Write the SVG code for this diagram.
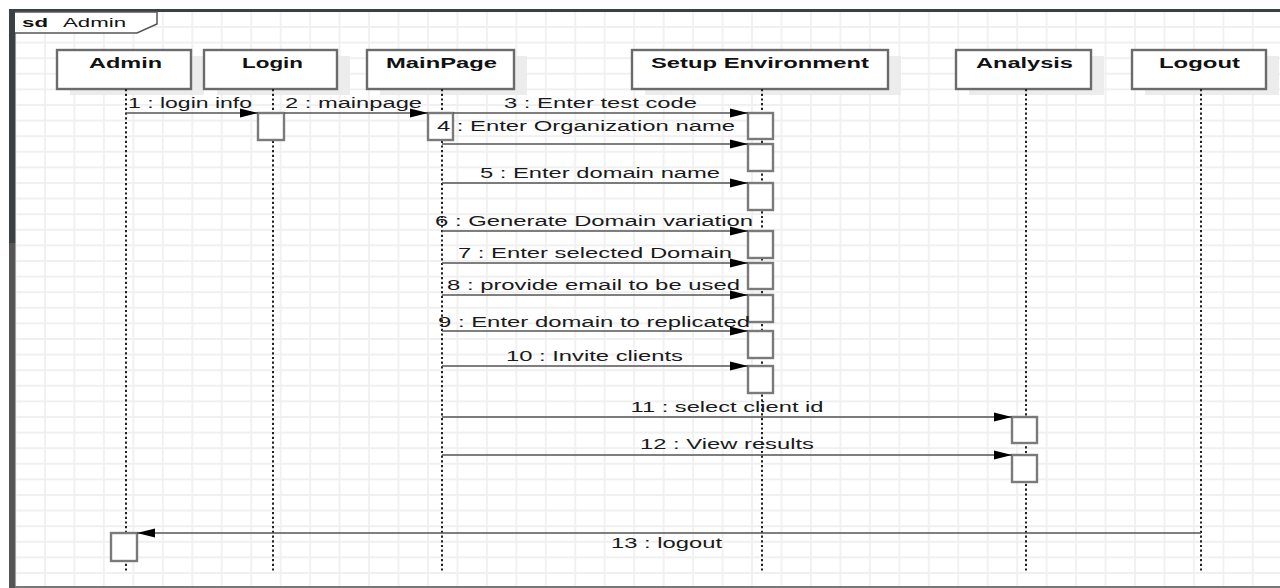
<svg xmlns="http://www.w3.org/2000/svg" width="1280" height="588" viewBox="0 0 1280 588">
<style>
.hdr{fill:#fff;stroke:#6b6b6b;stroke-width:2.4}
.shd{fill:#ececec}
.hl{font-family:"Liberation Sans",Arial,sans-serif;font-size:14.5px;font-weight:bold;fill:#111;text-anchor:middle}
.life{stroke:#222;stroke-width:2;stroke-dasharray:2.2 2.5;fill:none}
.act{fill:#fff;stroke:#7a7a7a;stroke-width:2.4}
.msg{stroke:#555;stroke-width:1.6;fill:none;marker-end:url(#ah)}
.ml{font-family:"Liberation Sans",Arial,sans-serif;font-size:14px;fill:#1a1a1a;text-anchor:middle}
.mls{font-family:"Liberation Sans",Arial,sans-serif;font-size:14px;fill:#1a1a1a}
</style>
<defs>
<pattern id="grid" patternUnits="userSpaceOnUse" x="44" y="10.4" width="29.46" height="15.6">
<path d="M0,1 H29.46 M1,0 V15.6" stroke="#f0f0f0" stroke-width="1.8" fill="none"/>
</pattern>
<marker id="ah" markerUnits="userSpaceOnUse" markerWidth="18" markerHeight="10" viewBox="0 0 18 10" refX="18" refY="5" orient="auto">
<path d="M0,0.6 L18,5 L0,9.4 z" fill="#000"/>
</marker>
</defs>
<rect width="1280" height="588" fill="#fff"/>
<g id="frame">
<rect x="15" y="12" width="1265" height="574" fill="url(#grid)"/>
<rect x="9" y="9" width="1271" height="3" fill="#3a4144"/>
<rect x="9" y="9" width="6.5" height="234" fill="#3a4144"/>
<rect x="9" y="243" width="6.5" height="345" fill="#555"/>
<rect x="15" y="586" width="1265" height="2" fill="#777"/>
<path d="M15,12 H157 V24 L137,33 H15" fill="#fff" stroke="#555" stroke-width="1.5"/>
<text x="22" y="27" font-family="Liberation Sans,Arial,sans-serif" font-size="13.5" font-weight="bold" fill="#111" textLength="26" lengthAdjust="spacingAndGlyphs">sd</text>
<text x="63" y="27" font-family="Liberation Sans,Arial,sans-serif" font-size="13.5" fill="#111" textLength="63" lengthAdjust="spacingAndGlyphs">Admin</text>
</g>
<g id="admin">
<rect class="shd" x="70" y="56" width="134" height="39"/>
<rect class="hdr" x="57" y="50" width="134" height="39"/>
<text class="hl" x="125.5" y="67.5" textLength="73" lengthAdjust="spacingAndGlyphs">Admin</text>
<line class="life" x1="126" y1="89" x2="126" y2="571"/>
<rect class="act" x="111" y="533" width="26" height="28"/>
</g>
<g id="login">
<rect class="shd" x="217" y="56" width="133" height="39"/>
<rect class="hdr" x="204" y="50" width="133" height="39"/>
<text class="hl" x="272.5" y="67.5" textLength="61" lengthAdjust="spacingAndGlyphs">Login</text>
<line class="life" x1="273" y1="89" x2="273" y2="571"/>
<rect class="act" x="258" y="113" width="26" height="27"/>
</g>
<g id="mainpage">
<rect class="shd" x="380" y="56" width="147" height="39"/>
<rect class="hdr" x="367" y="50" width="147" height="39"/>
<text class="hl" x="441.5" y="67.5" textLength="111" lengthAdjust="spacingAndGlyphs">MainPage</text>
<line class="life" x1="442" y1="89" x2="442" y2="571"/>
<rect class="act" x="428" y="113" width="25" height="27"/>
</g>
<g id="setup">
<rect class="shd" x="645" y="56" width="256" height="39"/>
<rect class="hdr" x="632" y="50" width="256" height="39"/>
<text class="hl" x="760" y="67.5" textLength="218" lengthAdjust="spacingAndGlyphs">Setup Environment</text>
<line class="life" x1="762" y1="89" x2="762" y2="571"/>
<rect class="act" x="748" y="113" width="25" height="26"/>
<rect class="act" x="748" y="144" width="25" height="27"/>
<rect class="act" x="748" y="183" width="25" height="27"/>
<rect class="act" x="748" y="231" width="25" height="27"/>
<rect class="act" x="748" y="263" width="25" height="26"/>
<rect class="act" x="748" y="295" width="25" height="27"/>
<rect class="act" x="748" y="331" width="25" height="27"/>
<rect class="act" x="748" y="366" width="25" height="27"/>
</g>
<g id="analysis">
<rect class="shd" x="969" y="56" width="135" height="39"/>
<rect class="hdr" x="956" y="50" width="135" height="39"/>
<text class="hl" x="1024.5" y="67.5" textLength="97" lengthAdjust="spacingAndGlyphs">Analysis</text>
<line class="life" x1="1026" y1="89" x2="1026" y2="571"/>
<rect class="act" x="1012" y="417" width="25" height="26"/>
<rect class="act" x="1012" y="455" width="25" height="27"/>
</g>
<g id="logout">
<rect class="shd" x="1145" y="56" width="134" height="39"/>
<rect class="hdr" x="1132" y="50" width="134" height="39"/>
<text class="hl" x="1199.5" y="67.5" textLength="81" lengthAdjust="spacingAndGlyphs">Logout</text>
<line class="life" x1="1201" y1="89" x2="1201" y2="571"/>
</g>
<g id="connectors">
<line class="msg" x1="126" y1="113" x2="258" y2="113"/>
<line class="msg" x1="284" y1="113" x2="428" y2="113"/>
<line class="msg" x1="453" y1="113" x2="748" y2="113"/>
<line class="msg" x1="442" y1="144" x2="748" y2="144"/>
<line class="msg" x1="442" y1="183" x2="748" y2="183"/>
<line class="msg" x1="442" y1="231" x2="748" y2="231"/>
<line class="msg" x1="442" y1="263" x2="748" y2="263"/>
<line class="msg" x1="442" y1="295" x2="748" y2="295"/>
<line class="msg" x1="442" y1="331" x2="748" y2="331"/>
<line class="msg" x1="442" y1="366" x2="748" y2="366"/>
<line class="msg" x1="442" y1="417" x2="1012" y2="417"/>
<line class="msg" x1="442" y1="455" x2="1012" y2="455"/>
<line class="msg" x1="1201" y1="533" x2="137" y2="533"/>
<text class="mls" x="128" y="107.5" textLength="124" lengthAdjust="spacingAndGlyphs">1 : login info</text>
<text class="mls" x="285" y="107.5" textLength="137" lengthAdjust="spacingAndGlyphs">2 : mainpage</text>
<text class="ml" x="600.5" y="107.5" textLength="193" lengthAdjust="spacingAndGlyphs">3 : Enter test code</text>
<text class="ml" x="586" y="130.5" textLength="298" lengthAdjust="spacingAndGlyphs">4 : Enter Organization name</text>
<text class="ml" x="600" y="177.5" textLength="240" lengthAdjust="spacingAndGlyphs">5 : Enter domain name</text>
<text class="ml" x="594" y="225.5" textLength="318" lengthAdjust="spacingAndGlyphs">6 : Generate Domain variation</text>
<text class="ml" x="595" y="257.5" textLength="274" lengthAdjust="spacingAndGlyphs">7 : Enter selected Domain</text>
<text class="ml" x="593.5" y="289.5" textLength="293" lengthAdjust="spacingAndGlyphs">8 : provide email to be used</text>
<text class="ml" x="594" y="326.5" textLength="312" lengthAdjust="spacingAndGlyphs">9 : Enter domain to replicated</text>
<text class="ml" x="594.5" y="360.5" textLength="177" lengthAdjust="spacingAndGlyphs">10 : Invite clients</text>
<text class="ml" x="727" y="411.5" textLength="193" lengthAdjust="spacingAndGlyphs">11 : select client id</text>
<text class="ml" x="727" y="448.5" textLength="174" lengthAdjust="spacingAndGlyphs">12 : View results</text>
<text class="ml" x="666.5" y="547.5" textLength="111" lengthAdjust="spacingAndGlyphs">13 : logout</text>
</g>
</svg>
